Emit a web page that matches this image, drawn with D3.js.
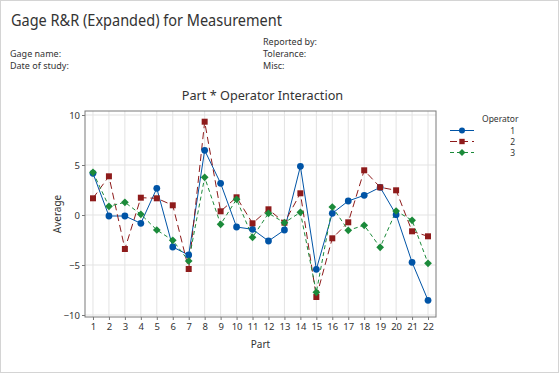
<!DOCTYPE html>
<html><head><meta charset="utf-8">
<script src="https://cdn.jsdelivr.net/npm/d3@7"></script>
<style>
body{margin:0;background:#fff;}
text{font-family:"Segoe UI","Noto Sans","Open Sans",sans-serif;fill:#333;}
</style></head>
<body>
<script>
const parts = d3.range(1, 23);
const operators = ["1", "2", "3"];
const op1 = [4.17,-0.1,-0.1,-0.83,2.67,-3.2,-4.0,6.47,3.17,-1.2,-1.43,-2.6,-1.5,4.87,-5.43,0.17,1.4,1.97,2.77,0.03,-4.73,-8.53];
const op2 = [1.67,3.87,-3.4,1.73,1.67,0.97,-5.4,9.33,0.37,1.77,-0.83,0.57,-0.77,2.17,-8.2,-2.33,-0.73,4.47,2.77,2.47,-1.63,-2.13];
const op3 = [4.27,0.87,1.27,0.07,-1.5,-2.53,-4.6,3.77,-0.93,1.57,-2.23,0.17,-0.77,0.27,-7.73,0.8,-1.53,-1.03,-3.23,0.4,-0.53,-4.83];
const yTicks = [-10, -5, 0, 5, 10];
const colors = ["#0054A6", "#8E1B1B", "#1B8A3A"];
const dashes = [null, "7,4", "4,3"];
const symbols = [d3.symbolCircle, d3.symbolSquare, d3.symbolSquare];
const rotations = [0, 0, 45];
const symSizes = [36, 36, 30];

const W = 559, H = 373;
const svg = d3.select("body").append("svg").attr("width", W).attr("height", H);
svg.append("rect").attr("x",0.5).attr("y",0.5).attr("width",W-1).attr("height",H-1).attr("fill","#fff").attr("stroke","#d4d4d4");

svg.append("text").attr("x",11).attr("y",26).style("font-size","15.5px").attr("textLength",271).attr("lengthAdjust","spacingAndGlyphs").text("Gage R&R (Expanded) for Measurement");
const hdr = [["Gage name:",10,57,45],["Date of study:",10,69,55],["Reported by:",263,45,47],["Tolerance:",263,57,38],["Misc:",263,69,20]];
hdr.forEach(h => svg.append("text").attr("x",h[1]).attr("y",h[2]).style("font-size","9px").text(h[0]));

const L = 85, R = 436, T = 111, B = 317;
const x = d3.scaleLinear().domain([0.5, 22.5]).range([L, R]);
const y = d3.scaleLinear().domain([-10.2, 10.4]).range([B, T]);

svg.append("text").attr("x",262.5).attr("y",99.5).attr("text-anchor","middle").style("font-size","12.7px").text("Part * Operator Interaction");

const g = svg.append("g");
g.selectAll(".vg").data(parts).join("line").attr("x1",d=>x(d)).attr("x2",d=>x(d)).attr("y1",T).attr("y2",B).attr("stroke","#e3e3e3");
g.selectAll(".hg").data(yTicks).join("line").attr("x1",L).attr("x2",R).attr("y1",d=>y(d)).attr("y2",d=>y(d)).attr("stroke","#e3e3e3");

const yAxis = d3.axisLeft(y).tickValues(yTicks).tickSize(3).tickPadding(2);
const ya = svg.append("g").attr("transform",`translate(${L},0)`).call(yAxis);
const xAxis = d3.axisBottom(x).tickValues(parts).tickSize(3).tickPadding(3);
const xa = svg.append("g").attr("transform",`translate(0,${B})`).call(xAxis);
[ya, xa].forEach(a => {
  a.select(".domain").remove();
  a.selectAll("line").attr("stroke","#777");
  a.selectAll("text").style("font-size","9.5px").style("fill","#333").style("font-family",'"Segoe UI","Noto Sans",sans-serif');
});
svg.append("rect").attr("x",L).attr("y",T).attr("width",R-L).attr("height",B-T).attr("fill","none").attr("stroke","#7a7a7a");

svg.append("text").attr("transform",`translate(61,${(T+B)/2}) rotate(-90)`).attr("text-anchor","middle").style("font-size","10px").text("Average");
svg.append("text").attr("x",(L+R)/2).attr("y",348).attr("text-anchor","middle").style("font-size","10px").text("Part");

const series = [op1, op2, op3];
const line = d3.line().x((d,i)=>x(parts[i])).y(d=>y(d));
series.forEach((s, k) => {
  svg.append("path").datum(s).attr("d", line).attr("fill","none").attr("stroke",colors[k]).attr("stroke-width",1).attr("stroke-dasharray",dashes[k]);
});
series.forEach((s, k) => {
  svg.selectAll(".m"+k).data(s).join("path")
    .attr("transform",(d,i)=>`translate(${x(parts[i])},${y(d)}) rotate(${rotations[k]})`)
    .attr("d", d3.symbol().type(symbols[k]).size(symSizes[k]))
    .attr("fill",colors[k]);
});

svg.append("text").attr("x",482).attr("y",122).style("font-size","8.5px").text("Operator");
operators.forEach((o, k) => {
  const yy = 130.5 + k*11;
  svg.append("line").attr("x1",450).attr("x2",474).attr("y1",yy).attr("y2",yy).attr("stroke",colors[k]).attr("stroke-dasharray",dashes[k]);
  svg.append("path").attr("transform",`translate(462,${yy}) rotate(${rotations[k]})`).attr("d",d3.symbol().type(symbols[k]).size(symSizes[k]*0.8)).attr("fill",colors[k]);
  svg.append("text").attr("x",515).attr("y",yy+3).attr("text-anchor","end").style("font-size","8.5px").text(o);
});
</script>
</body></html>
